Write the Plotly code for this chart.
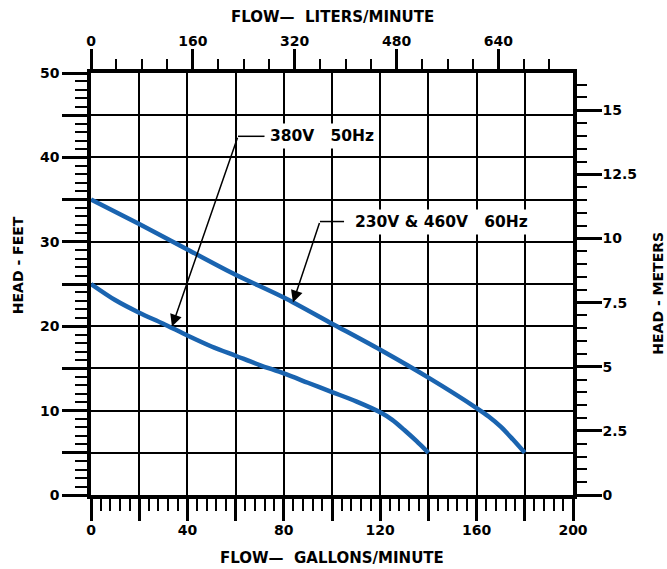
import plotly.graph_objects as go

# ---- data ----
gpm_60 = [0, 20, 40, 60, 80, 100, 120, 140, 160, 165, 170, 175, 180]
head_60 = [35, 32.1, 29.1, 26.1, 23.4, 20.3, 17.2, 13.9, 10.3, 9.3, 8.1, 6.6, 5]
gpm_50 = [0, 10, 20, 30, 40, 50, 60, 70, 80, 90, 100, 110, 120, 125, 130, 135, 140]
head_50 = [25, 23.1, 21.6, 20.3, 18.9, 17.6, 16.5, 15.4, 14.4, 13.3, 12.2, 11.1, 9.8, 8.9, 7.7, 6.4, 5]

x_ticks = [0, 20, 40, 60, 80, 100, 120, 140, 160, 180, 200]
x_text = ["0", "", "40", "", "80", "", "120", "", "160", "", "200"]
y_ticks = [0, 5, 10, 15, 20, 25, 30, 35, 40, 45, 50]
y_text = ["0", "", "10", "", "20", "", "30", "", "40", "", "50"]
lpm_ticks = [0, 160, 320, 480, 640]
m_ticks = [0, 2.5, 5, 7.5, 10, 12.5, 15]
m_text = ["0", "2.5", "5", "7.5", "10", "12.5", "15"]

GPM_MAX = 200
LPM_MAX = 757.08
M_MAX = 16.45

BLUE = "#1a64b0"
TICKFONT = dict(family="DejaVu Sans", size=14, color="black", weight="bold")
TITLEFONT = dict(family="DejaVu Sans", size=14, color="black", weight="bold")
XTITLEFONT = dict(family="DejaVu Sans", size=15, color="black", weight="bold")
CALLFONT = dict(family="DejaVu Sans", size=15.5, color="black", weight="bold")

fig = go.Figure()
for xs, ys in ((gpm_60, head_60), (gpm_50, head_50)):
    fig.add_trace(go.Scatter(x=xs, y=ys, mode="lines",
                             line=dict(color=BLUE, width=4.5, shape="spline", smoothing=0.8),
                             hoverinfo="skip", showlegend=False))
# invisible trace to anchor the secondary axes
fig.add_trace(go.Scatter(x=[0, LPM_MAX], y=[0, M_MAX], xaxis="x2", yaxis="y2",
                         mode="markers", marker=dict(opacity=0), hoverinfo="skip",
                         showlegend=False))

common = dict(showline=True, linecolor="black", linewidth=3.5, zeroline=False,
              tickfont=TICKFONT, ticks="outside", tickcolor="black", tickwidth=3)

fig.update_layout(
    width=667, height=569,
    margin=dict(l=91, r=94, t=73, b=74),
    paper_bgcolor="white", plot_bgcolor="white",
    font=TICKFONT,
    xaxis=dict(range=[0, GPM_MAX], autorange=False, tickmode="array",
               tickvals=x_ticks, ticktext=x_text, ticklen=22, ticklabelstandoff=-3,
               showgrid=True, gridcolor="black", gridwidth=2.2,
               minor=dict(tickmode="linear", tick0=0, dtick=4, ticks="outside",
                          ticklen=12, tickwidth=2, tickcolor="black", showgrid=False),
               **common),
    yaxis=dict(range=[0, 50], autorange=False, tickmode="array",
               tickvals=y_ticks, ticktext=y_text, ticklen=25,
               showgrid=True, gridcolor="black", gridwidth=2.2,
               minor=dict(tickmode="linear", tick0=0, dtick=1, ticks="outside",
                          ticklen=12, tickwidth=2, tickcolor="black", showgrid=False),
               **common),
    xaxis2=dict(range=[0, LPM_MAX], autorange=False, overlaying="x", side="top",
                tickmode="array", tickvals=lpm_ticks, ticklen=20, ticklabelstandoff=-2,
                showgrid=False,
                minor=dict(tickmode="linear", tick0=0, dtick=40, ticks="outside",
                           ticklen=10, tickwidth=2, tickcolor="black", showgrid=False),
                **common),
    yaxis2=dict(range=[0, M_MAX], autorange=False, overlaying="y", side="right",
                tickmode="array", tickvals=m_ticks, ticktext=m_text, ticklen=25,
                ticklabelstandoff=-2, showgrid=False,
                minor=dict(tickmode="linear", tick0=0, dtick=0.5, ticks="outside",
                           ticklen=10, tickwidth=2, tickcolor="black", showgrid=False),
                **common),
)

titles = [
    ("FLOW\u2014  LITERS/MINUTE", 0.5, 1.133, 0, XTITLEFONT),
    ("FLOW\u2014  GALLONS/MINUTE", 0.5, -0.149, 0, XTITLEFONT),
    ("HEAD - FEET", -0.151, 0.545, -90, TITLEFONT),
    ("HEAD - METERS", 1.176, 0.479, -90, TITLEFONT),
]
for txt, xp, yp, ang, fnt in titles:
    fig.add_annotation(text=txt, xref="paper", yref="paper", x=xp, y=yp,
                       showarrow=False, textangle=ang, font=fnt,
                       xanchor="center", yanchor="middle")

# callouts: (label, text center x, y, bend x, leader end x, tip x, tip y)
callouts = [
    ("380V   50Hz", 95.9, 42.5, 61.0, 72.0, 33.6, 19.95),
    ("230V & 460V   60Hz", 145.6, 32.4, 95.0, 105.0, 83.8, 22.8),
]
for label, tx, ty, bx, lx, px, py in callouts:
    fig.add_shape(type="line", x0=bx, y0=ty, x1=lx, y1=ty, xref="x", yref="y",
                  line=dict(color="black", width=1.5))
    fig.add_annotation(x=px, y=py, ax=bx, ay=ty, axref="x", ayref="y",
                       xref="x", yref="y", text="", showarrow=True,
                       arrowhead=2, arrowsize=1.6, arrowwidth=1.5, arrowcolor="black")
    fig.add_annotation(x=tx, y=ty, xref="x", yref="y", text=label, showarrow=False,
                       bgcolor="white", font=CALLFONT, borderpad=3)

fig.write_html("out.html",
               config={"displayModeBar": False},
               post_script="document.body.style.margin='0';"
                           "document.body.style.overflow='hidden';")
